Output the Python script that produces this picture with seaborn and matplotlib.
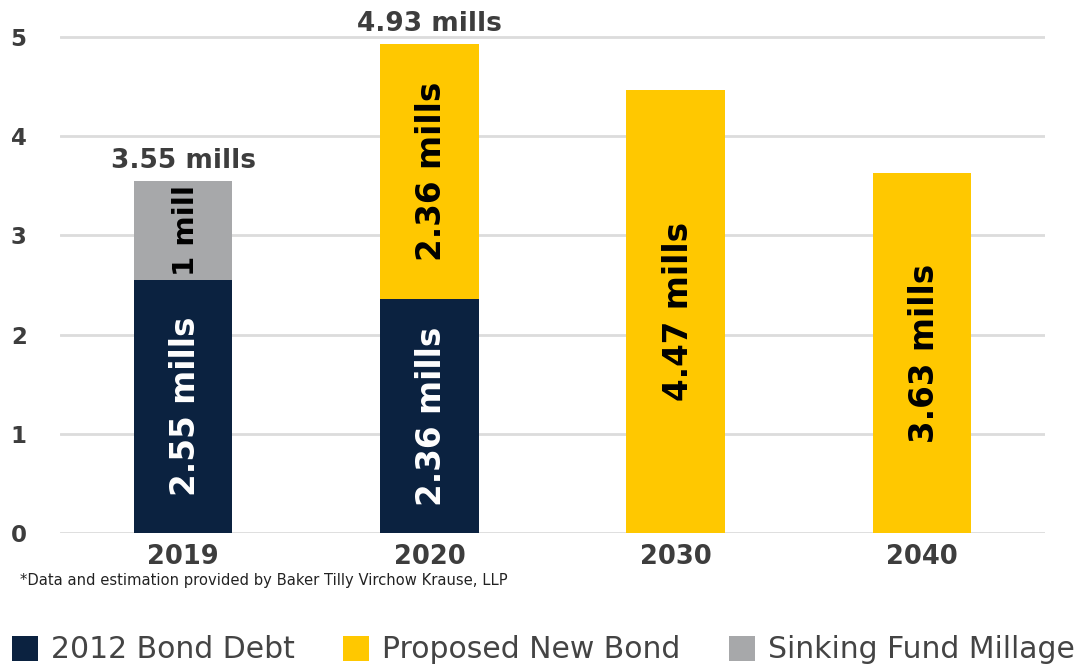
import matplotlib
matplotlib.use('Agg')
import matplotlib.pyplot as plt
from matplotlib.patches import Patch
import seaborn as sns

years = ['2019', '2020', '2030', '2040']
bond_2012 = [2.55, 2.36, 0.0, 0.0]
new_bond = [0.0, 2.57, 4.47, 3.63]
sinking = [1.0, 0.0, 0.0, 0.0]
totals = [3.55, 4.93, 4.47, 3.63]
total_labels = ['3.55 mills', '4.93 mills', '', '']
bond_labels = ['2.55 mills', '2.36 mills', '', '']
new_labels = ['', '2.36 mills', '4.47 mills', '3.63 mills']
sinking_labels = ['1 mill', '', '', '']
series_names = ['2012 Bond Debt', 'Proposed New Bond', 'Sinking Fund Millage']

NAVY = '#0b2240'
YELLOW = '#ffc800'
GRAY = '#a7a8aa'
TXT = '#3d3d3d'

sns.set_style('white')
plt.rcParams['font.family'] = ['DejaVu Sans']

fig = plt.figure(figsize=(10.83, 6.66), dpi=100)
unit = 99.2 / 666
ax = fig.add_axes([60 / 1083, 1 - 533 / 666, 985 / 1083, 5.3 * unit])

bottom_new = bond_2012
bottom_sink = [b + n for b, n in zip(bond_2012, new_bond)]

bar_kw = dict(width=0.4, saturation=1, linewidth=0, ax=ax, zorder=3)
sns.barplot(x=years, y=bond_2012, color=NAVY, **bar_kw)
sns.barplot(x=years, y=new_bond, bottom=bottom_new, color=YELLOW, **bar_kw)
sns.barplot(x=years, y=sinking, bottom=bottom_sink, color=GRAY, **bar_kw)

seg_font = dict(fontweight='bold', rotation=90, ha='center', va='center', zorder=5)
for i in range(len(years)):
    if bond_labels[i]:
        ax.text(i + 0.01, bond_2012[i] / 2, bond_labels[i], color='white', fontsize=23.5, **seg_font)
    if new_labels[i]:
        ax.text(i + 0.01, bottom_new[i] + new_bond[i] / 2, new_labels[i], color='black', fontsize=23.5, **seg_font)
    if sinking_labels[i]:
        ax.text(i + 0.01, bottom_sink[i] + sinking[i] / 2, sinking_labels[i], color='black', fontsize=21, **seg_font)
    if total_labels[i]:
        ax.text(i, totals[i] + 0.07, total_labels[i], color=TXT, fontsize=19,
                fontweight='bold', ha='center', va='bottom', zorder=5)

ax.set_xlim(-0.5, 3.5)
ax.set_ylim(0, 5.3)
ax.set_yticks([0, 1, 2, 3, 4, 5])
ax.yaxis.grid(True, color='#dcdcdc', linewidth=2, zorder=0)
ax.set_axisbelow(True)
for s in ax.spines.values():
    s.set_visible(False)
ax.tick_params(axis='y', length=0, pad=24, labelsize=16.5, labelcolor=TXT)
ax.tick_params(axis='x', length=0, pad=8, labelsize=18.5, labelcolor=TXT)
for lab in ax.get_xticklabels() + ax.get_yticklabels():
    lab.set_fontweight('bold')

fig.text(20 / 1083, 1 - 580 / 666, '*Data and estimation provided by Baker Tilly Virchow Krause, LLP',
         fontsize=10.6, color='#222222', va='center', ha='left')

handles = [Patch(facecolor=c, edgecolor='none') for c in (NAVY, YELLOW, GRAY)]
fig.legend(handles, series_names, loc='center left', bbox_to_anchor=(0.011, 1 - 650 / 666),
           ncol=3, frameon=False, fontsize=21.5, handlelength=0.87, handleheight=0.9,
           handletextpad=0.45, columnspacing=1.6, labelcolor='#444444', borderaxespad=0,
           borderpad=0)

fig.savefig('out.png', dpi=100)
